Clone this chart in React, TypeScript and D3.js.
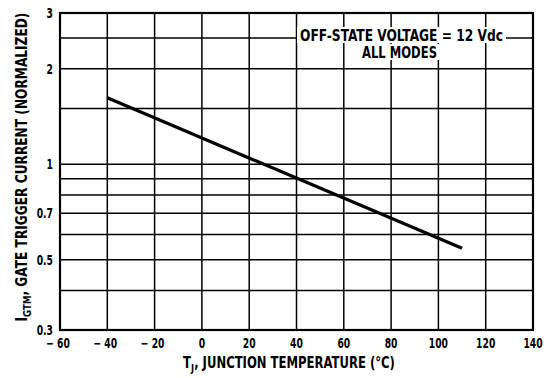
import React, { useRef, useEffect } from "react";
import * as d3 from "d3";

// Temperatura de unión (°C) e I_GTM normalizada
const temps = [-40, 110];
const igtm = [1.62, 0.543];

const xTicks = [-60, -40, -20, 0, 20, 40, 60, 80, 100, 120, 140];
const yGrid = [0.3, 0.4, 0.5, 0.6, 0.7, 0.8, 0.9, 1, 1.5, 2, 2.5, 3];
const yLabels = [0.3, 0.5, 0.7, 1, 2, 3];
const noteLines = ["OFF-STATE VOLTAGE  =  12 Vdc", "ALL MODES"];

const FONT = "'DejaVu Sans Condensed', 'Liberation Sans', sans-serif";

// Estrecha horizontalmente un texto para imitar la tipografía condensada
const squeeze = (g: any, x: number, y: number, k: number, rot = 0) =>
  g.attr("transform", `translate(${x}, ${y}) rotate(${rot}) scale(${k}, 1)`);

const App = () => {
  const ref = useRef<SVGSVGElement>(null);
  const width = 555;
  const height = 378;

  useEffect(() => {
    const container = ref.current;
    if (!container) return;
    d3.select(container).selectChildren().remove();

    const margin = { top: 13, right: 22, bottom: 48, left: 60 };
    const w = width - margin.left - margin.right;
    const h = height - margin.top - margin.bottom;

    const svg = d3
      .select(container)
      .append("g")
      .attr("transform", `translate(${margin.left}, ${margin.top})`)
      .style("font-family", FONT)
      .style("font-weight", "bold");

    const x = d3.scaleLinear().domain([-60, 140]).range([0, w]);
    const y = d3.scaleLog().domain([0.3, 3]).range([h, 0]);

    // Rejilla
    svg
      .append("g")
      .selectAll("line")
      .data(xTicks)
      .enter()
      .append("line")
      .attr("x1", (d) => x(d))
      .attr("x2", (d) => x(d))
      .attr("y1", 0)
      .attr("y2", h)
      .attr("stroke", "#000")
      .attr("stroke-width", 1.5);

    svg
      .append("g")
      .selectAll("line")
      .data(yGrid)
      .enter()
      .append("line")
      .attr("x1", 0)
      .attr("x2", w)
      .attr("y1", (d) => y(d))
      .attr("y2", (d) => y(d))
      .attr("stroke", "#000")
      .attr("stroke-width", 1.5);

    // Marco
    svg
      .append("rect")
      .attr("width", w)
      .attr("height", h)
      .attr("fill", "none")
      .attr("stroke", "#000")
      .attr("stroke-width", 2.2);

    // Nota (ancho objetivo y centro de cada línea en px absolutos)
    const noteW = [203, 75];
    const noteX = [401.5, 399.5];
    const noteY = [41, 58];
    noteLines.forEach((t, i) => {
      const g = svg.append("g");
      const tx = g
        .append("text")
        .attr("text-anchor", "middle")
        .style("font-size", "16px")
        .text(t);
      const bb = (tx.node() as SVGTextElement).getBBox();
      const k = noteW[i] / bb.width;
      g.insert("rect", "text")
        .attr("x", bb.x - 3 / k)
        .attr("y", -14)
        .attr("width", bb.width + 6 / k)
        .attr("height", 16)
        .attr("fill", "#fff");
      squeeze(g, noteX[i] - margin.left, noteY[i] - margin.top, k);
    });

    // Curva
    const line = d3
      .line<number>()
      .x((_, i) => x(temps[i]))
      .y((d) => y(d));
    svg
      .append("path")
      .datum(igtm)
      .attr("d", line)
      .attr("fill", "none")
      .attr("stroke", "#000")
      .attr("stroke-width", 3.2);

    // Factor de estrechamiento de las cifras: "20" mide ~13 px en el original
    const probe = svg.append("text").style("font-size", "14px").text("20");
    const kNum = 13 / (probe.node() as SVGTextElement).getBBox().width;
    probe.remove();

    // Etiquetas X
    xTicks.forEach((d) => {
      const g = svg.append("g");
      g.append("text")
        .attr("text-anchor", "middle")
        .style("font-size", "14px")
        .text(d < 0 ? `\u2212 ${-d}` : `${d}`);
      squeeze(g, x(d) - (d < 0 ? 2 : 0), h + 18, kNum);
    });

    // Etiquetas Y
    yLabels.forEach((d) => {
      const g = svg.append("g");
      g.append("text")
        .attr("text-anchor", "end")
        .style("font-size", "14px")
        .text(`${d}`);
      squeeze(g, -7, y(d) + 5, kNum);
    });

    // Rótulo eje X
    const gx = svg.append("g");
    const xl = gx.append("text").attr("text-anchor", "middle").style("font-size", "15.5px");
    xl.append("tspan").text("T");
    xl.append("tspan").attr("dy", 4).style("font-size", "11px").text("J");
    xl.append("tspan").attr("dy", -4).text(", JUNCTION TEMPERATURE (°C)");
    const kx = 212 / (xl.node() as SVGTextElement).getBBox().width;
    squeeze(gx, 289 - margin.left, 368 - margin.top, kx);

    // Rótulo eje Y
    const gy = svg.append("g");
    const yl = gy.append("text").attr("text-anchor", "middle").style("font-size", "15.5px");
    yl.append("tspan").text("I");
    yl.append("tspan").attr("dy", 4).style("font-size", "11px").text("GTM");
    yl.append("tspan").attr("dy", -4).text(", GATE TRIGGER CURRENT (NORMALIZED)");
    const ky = 309 / (yl.node() as SVGTextElement).getBBox().width;
    squeeze(gy, 27 - margin.left, 167 - margin.top, ky, -90);
  }, []);

  return <svg width={width} height={height} ref={ref} style={{ position: "absolute", left: 0, top: 0 }} />;
};

export default App;
